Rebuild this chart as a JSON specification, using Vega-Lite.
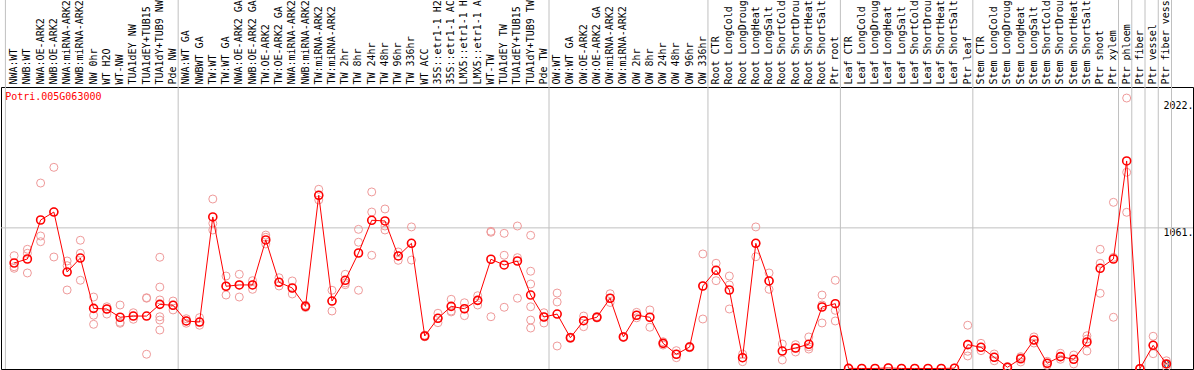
{
  "$schema": "https://vega.github.io/schema/vega-lite/v6.json",
  "width": 1192,
  "height": 282,
  "autosize": {"type": "none"},
  "padding": {"left": 1, "top": 87, "right": 1, "bottom": 1},
  "background": "white",
  "config": {"view": {"stroke": "black", "strokeWidth": 1}, "font": "DejaVu Sans Mono"},
  "datasets": {
    "gene": [{"gene": "Potri.005G063000"}],
    "bounds": [{"sample": "Pde NW"}, {"sample": "Pde TW"}, {"sample": "OW 336hr"}, {"sample": "Ptr root"}, {"sample": "Ptr leaf"}, {"sample": "Ptr xylem"}, {"sample": "Ptr phloem"}, {"sample": "Ptr fiber"}, {"sample": "Ptr vessel"}, {"sample": "Ptr fiber vessel"}],
    "means": [
      {"sample": "NWA:WT", "value": 797}, {"sample": "NWB:WT", "value": 827}, {"sample": "NWA:OE-ARK2", "value": 1120}, {"sample": "NWB:OE-ARK2", "value": 1180}, {"sample": "NWA:miRNA-ARK2", "value": 729}, {"sample": "NWB:miRNA-ARK2", "value": 834}, {"sample": "NW 0hr", "value": 456}, {"sample": "WT H2O", "value": 451}, {"sample": "WT-NW", "value": 389}, {"sample": "TUA1dEY NW", "value": 398}, {"sample": "TUA1dEY+TUB15 NW", "value": 398}, {"sample": "TUA1dY+TUB9 NW", "value": 486}, {"sample": "Pde NW", "value": 479},
      {"sample": "NWA:WT GA", "value": 361}, {"sample": "NWBWT GA", "value": 353}, {"sample": "TW:WT", "value": 1143}, {"sample": "TW:WT GA", "value": 622}, {"sample": "NWA:OE-ARK2 GA", "value": 632}, {"sample": "NWB:OE-ARK2 GA", "value": 632}, {"sample": "TW:OE-ARK2", "value": 970}, {"sample": "TW:OE-ARK2 GA", "value": 652}, {"sample": "NWA:miRNA-ARK2 GA", "value": 609}, {"sample": "NWB:miRNA-ARK2 GA", "value": 471}, {"sample": "TW:miRNA-ARK2", "value": 1306}, {"sample": "TW:miRNA-ARK2 GA", "value": 511}, {"sample": "TW 2hr", "value": 667}, {"sample": "TW 8hr", "value": 872}, {"sample": "TW 24hr", "value": 1118}, {"sample": "TW 48hr", "value": 1113}, {"sample": "TW 96hr", "value": 850}, {"sample": "TW 336hr", "value": 945}, {"sample": "WT ACC", "value": 248}, {"sample": "35S::etr1-1 H2O", "value": 381}, {"sample": "35S::etr1-1 ACC", "value": 471}, {"sample": "LMX5::etr1-1 H2O", "value": 453}, {"sample": "LMX5::etr1-1 ACC", "value": 516}, {"sample": "WT-TW", "value": 825}, {"sample": "TUA1dEY TW", "value": 782}, {"sample": "TUA1dEY+TUB15 TW", "value": 812}, {"sample": "TUA1dY+TUB9 TW", "value": 556}, {"sample": "Pde TW", "value": 391},
      {"sample": "OW:WT", "value": 413}, {"sample": "OW:WT GA", "value": 235}, {"sample": "OW:OE-ARK2", "value": 363}, {"sample": "OW:OE-ARK2 GA", "value": 389}, {"sample": "OW:miRNA-ARK2", "value": 532}, {"sample": "OW:miRNA-ARK2 GA", "value": 241}, {"sample": "OW 2hr", "value": 404}, {"sample": "OW 8hr", "value": 389}, {"sample": "OW 24hr", "value": 193}, {"sample": "OW 48hr", "value": 111}, {"sample": "OW 96hr", "value": 165}, {"sample": "OW 336hr", "value": 624},
      {"sample": "Root CTR", "value": 742}, {"sample": "Root LongCold", "value": 594}, {"sample": "Root LongDrought", "value": 85}, {"sample": "Root LongHeat", "value": 945}, {"sample": "Root LongSalt", "value": 662}, {"sample": "Root ShortCold", "value": 135}, {"sample": "Root ShortDrought", "value": 158}, {"sample": "Root ShortHeat", "value": 186}, {"sample": "Root ShortSalt", "value": 466}, {"sample": "Ptr root", "value": 491},
      {"sample": "Leaf CTR", "value": 5}, {"sample": "Leaf LongCold", "value": 4}, {"sample": "Leaf LongDrought", "value": 4}, {"sample": "Leaf LongHeat", "value": 8}, {"sample": "Leaf LongSalt", "value": 4}, {"sample": "Leaf ShortCold", "value": 4}, {"sample": "Leaf ShortDrought", "value": 4}, {"sample": "Leaf ShortHeat", "value": 4}, {"sample": "Leaf ShortSalt", "value": 6}, {"sample": "Ptr leaf", "value": 183},
      {"sample": "Stem CTR", "value": 163}, {"sample": "Stem LongCold", "value": 88}, {"sample": "Stem LongDrought", "value": 13}, {"sample": "Stem LongHeat", "value": 77}, {"sample": "Stem LongSalt", "value": 218}, {"sample": "Stem ShortCold", "value": 43}, {"sample": "Stem ShortDrought", "value": 93}, {"sample": "Stem ShortHeat", "value": 73}, {"sample": "Stem ShortSalt", "value": 203}, {"sample": "Ptr shoot", "value": 757}, {"sample": "Ptr xylem", "value": 827},
      {"sample": "Ptr phloem", "value": 1564}, {"sample": "Ptr fiber", "value": 2}, {"sample": "Ptr vessel", "value": 178}, {"sample": "Ptr fiber vessel", "value": 38}
    ],
    "reps": [
      {"sample": "NWA:WT", "value": 852}, {"sample": "NWA:WT", "value": 769}, {"sample": "NWA:WT", "value": 757},
      {"sample": "NWB:WT", "value": 900}, {"sample": "NWB:WT", "value": 870}, {"sample": "NWB:WT", "value": 722},
      {"sample": "NWA:OE-ARK2", "value": 1398}, {"sample": "NWA:OE-ARK2", "value": 1000}, {"sample": "NWA:OE-ARK2", "value": 957},
      {"sample": "NWB:OE-ARK2", "value": 1516}, {"sample": "NWB:OE-ARK2", "value": 842}, {"sample": "NWB:OE-ARK2", "value": 1182},
      {"sample": "NWA:miRNA-ARK2", "value": 812}, {"sample": "NWA:miRNA-ARK2", "value": 777}, {"sample": "NWA:miRNA-ARK2", "value": 594},
      {"sample": "NWB:miRNA-ARK2", "value": 968}, {"sample": "NWB:miRNA-ARK2", "value": 870}, {"sample": "NWB:miRNA-ARK2", "value": 667},
      {"sample": "NW 0hr", "value": 541}, {"sample": "NW 0hr", "value": 404}, {"sample": "NW 0hr", "value": 336},
      {"sample": "WT H2O", "value": 468}, {"sample": "WT H2O", "value": 413}, {"sample": "WT H2O", "value": 451},
      {"sample": "WT-NW", "value": 481}, {"sample": "WT-NW", "value": 351}, {"sample": "WT-NW", "value": 344},
      {"sample": "TUA1dEY NW", "value": 423}, {"sample": "TUA1dEY NW", "value": 374}, {"sample": "TUA1dEY NW", "value": 398},
      {"sample": "TUA1dEY+TUB15 NW", "value": 536}, {"sample": "TUA1dEY+TUB15 NW", "value": 532}, {"sample": "TUA1dEY+TUB15 NW", "value": 111},
      {"sample": "TUA1dY+TUB9 NW", "value": 840}, {"sample": "TUA1dY+TUB9 NW", "value": 616}, {"sample": "TUA1dY+TUB9 NW", "value": 519}, {"sample": "TUA1dY+TUB9 NW", "value": 393}, {"sample": "TUA1dY+TUB9 NW", "value": 368}, {"sample": "TUA1dY+TUB9 NW", "value": 293},
      {"sample": "Pde NW", "value": 511}, {"sample": "Pde NW", "value": 444}, {"sample": "Pde NW", "value": 479},
      {"sample": "NWA:WT GA", "value": 378}, {"sample": "NWA:WT GA", "value": 344}, {"sample": "NWA:WT GA", "value": 361},
      {"sample": "NWBWT GA", "value": 386}, {"sample": "NWBWT GA", "value": 329}, {"sample": "NWBWT GA", "value": 353},
      {"sample": "TW:WT", "value": 1278}, {"sample": "TW:WT", "value": 1095}, {"sample": "TW:WT", "value": 1045},
      {"sample": "TW:WT GA", "value": 699}, {"sample": "TW:WT GA", "value": 556}, {"sample": "TW:WT GA", "value": 622},
      {"sample": "NWA:OE-ARK2 GA", "value": 712}, {"sample": "NWA:OE-ARK2 GA", "value": 541}, {"sample": "NWA:OE-ARK2 GA", "value": 632},
      {"sample": "NWB:OE-ARK2 GA", "value": 664}, {"sample": "NWB:OE-ARK2 GA", "value": 599}, {"sample": "NWB:OE-ARK2 GA", "value": 632},
      {"sample": "TW:OE-ARK2", "value": 1007}, {"sample": "TW:OE-ARK2", "value": 990}, {"sample": "TW:OE-ARK2", "value": 940},
      {"sample": "TW:OE-ARK2 GA", "value": 686}, {"sample": "TW:OE-ARK2 GA", "value": 624}, {"sample": "TW:OE-ARK2 GA", "value": 652},
      {"sample": "NWA:miRNA-ARK2 GA", "value": 662}, {"sample": "NWA:miRNA-ARK2 GA", "value": 564}, {"sample": "NWA:miRNA-ARK2 GA", "value": 609},
      {"sample": "NWB:miRNA-ARK2 GA", "value": 480}, {"sample": "NWB:miRNA-ARK2 GA", "value": 462}, {"sample": "NWB:miRNA-ARK2 GA", "value": 471},
      {"sample": "TW:miRNA-ARK2", "value": 1351}, {"sample": "TW:miRNA-ARK2", "value": 1271}, {"sample": "TW:miRNA-ARK2", "value": 1306},
      {"sample": "TW:miRNA-ARK2 GA", "value": 592}, {"sample": "TW:miRNA-ARK2 GA", "value": 436}, {"sample": "TW:miRNA-ARK2 GA", "value": 511},
      {"sample": "TW 2hr", "value": 712}, {"sample": "TW 2hr", "value": 647}, {"sample": "TW 2hr", "value": 634},
      {"sample": "TW 8hr", "value": 1050}, {"sample": "TW 8hr", "value": 953}, {"sample": "TW 8hr", "value": 592},
      {"sample": "TW 24hr", "value": 1331}, {"sample": "TW 24hr", "value": 1180}, {"sample": "TW 24hr", "value": 855},
      {"sample": "TW 48hr", "value": 1203}, {"sample": "TW 48hr", "value": 1075}, {"sample": "TW 48hr", "value": 1045},
      {"sample": "TW 96hr", "value": 880}, {"sample": "TW 96hr", "value": 817}, {"sample": "TW 96hr", "value": 850},
      {"sample": "TW 336hr", "value": 1068}, {"sample": "TW 336hr", "value": 819}, {"sample": "TW 336hr", "value": 945},
      {"sample": "WT ACC", "value": 255}, {"sample": "WT ACC", "value": 242}, {"sample": "WT ACC", "value": 248},
      {"sample": "35S::etr1-1 H2O", "value": 419}, {"sample": "35S::etr1-1 H2O", "value": 348}, {"sample": "35S::etr1-1 H2O", "value": 381},
      {"sample": "35S::etr1-1 ACC", "value": 524}, {"sample": "35S::etr1-1 ACC", "value": 436}, {"sample": "35S::etr1-1 ACC", "value": 429},
      {"sample": "LMX5::etr1-1 H2O", "value": 498}, {"sample": "LMX5::etr1-1 H2O", "value": 401}, {"sample": "LMX5::etr1-1 H2O", "value": 453},
      {"sample": "LMX5::etr1-1 ACC", "value": 551}, {"sample": "LMX5::etr1-1 ACC", "value": 481}, {"sample": "LMX5::etr1-1 ACC", "value": 516},
      {"sample": "WT-TW", "value": 1035}, {"sample": "WT-TW", "value": 1028}, {"sample": "WT-TW", "value": 393},
      {"sample": "TUA1dEY TW", "value": 1020}, {"sample": "TUA1dEY TW", "value": 855}, {"sample": "TUA1dEY TW", "value": 464},
      {"sample": "TUA1dEY+TUB15 TW", "value": 1075}, {"sample": "TUA1dEY+TUB15 TW", "value": 837}, {"sample": "TUA1dEY+TUB15 TW", "value": 532},
      {"sample": "TUA1dY+TUB9 TW", "value": 1005}, {"sample": "TUA1dY+TUB9 TW", "value": 735}, {"sample": "TUA1dY+TUB9 TW", "value": 639}, {"sample": "TUA1dY+TUB9 TW", "value": 468}, {"sample": "TUA1dY+TUB9 TW", "value": 368}, {"sample": "TUA1dY+TUB9 TW", "value": 308},
      {"sample": "Pde TW", "value": 423}, {"sample": "Pde TW", "value": 346}, {"sample": "Pde TW", "value": 391},
      {"sample": "OW:WT", "value": 571}, {"sample": "OW:WT", "value": 504}, {"sample": "OW:WT", "value": 173},
      {"sample": "OW:WT GA", "value": 235}, {"sample": "OW:WT GA", "value": 240}, {"sample": "OW:WT GA", "value": 230},
      {"sample": "OW:OE-ARK2", "value": 398}, {"sample": "OW:OE-ARK2", "value": 318}, {"sample": "OW:OE-ARK2", "value": 363},
      {"sample": "OW:OE-ARK2 GA", "value": 389}, {"sample": "OW:OE-ARK2 GA", "value": 395}, {"sample": "OW:OE-ARK2 GA", "value": 383},
      {"sample": "OW:miRNA-ARK2", "value": 566}, {"sample": "OW:miRNA-ARK2", "value": 532}, {"sample": "OW:miRNA-ARK2", "value": 500},
      {"sample": "OW:miRNA-ARK2 GA", "value": 241}, {"sample": "OW:miRNA-ARK2 GA", "value": 245}, {"sample": "OW:miRNA-ARK2 GA", "value": 237},
      {"sample": "OW 2hr", "value": 426}, {"sample": "OW 2hr", "value": 404}, {"sample": "OW 2hr", "value": 385},
      {"sample": "OW 8hr", "value": 444}, {"sample": "OW 8hr", "value": 314}, {"sample": "OW 8hr", "value": 389},
      {"sample": "OW 24hr", "value": 193}, {"sample": "OW 24hr", "value": 180}, {"sample": "OW 24hr", "value": 205},
      {"sample": "OW 48hr", "value": 138}, {"sample": "OW 48hr", "value": 111}, {"sample": "OW 48hr", "value": 85},
      {"sample": "OW 96hr", "value": 165}, {"sample": "OW 96hr", "value": 170}, {"sample": "OW 96hr", "value": 160},
      {"sample": "OW 336hr", "value": 865}, {"sample": "OW 336hr", "value": 376}, {"sample": "OW 336hr", "value": 624},
      {"sample": "Root CTR", "value": 795}, {"sample": "Root CTR", "value": 664}, {"sample": "Root CTR", "value": 742},
      {"sample": "Root LongCold", "value": 699}, {"sample": "Root LongCold", "value": 632}, {"sample": "Root LongCold", "value": 451},
      {"sample": "Root LongDrought", "value": 55}, {"sample": "Root LongDrought", "value": 85}, {"sample": "Root LongDrought", "value": 112},
      {"sample": "Root LongHeat", "value": 1068}, {"sample": "Root LongHeat", "value": 844}, {"sample": "Root LongHeat", "value": 945},
      {"sample": "Root LongSalt", "value": 722}, {"sample": "Root LongSalt", "value": 599}, {"sample": "Root LongSalt", "value": 662},
      {"sample": "Root ShortCold", "value": 188}, {"sample": "Root ShortCold", "value": 68}, {"sample": "Root ShortCold", "value": 135},
      {"sample": "Root ShortDrought", "value": 183}, {"sample": "Root ShortDrought", "value": 128}, {"sample": "Root ShortDrought", "value": 158},
      {"sample": "Root ShortHeat", "value": 241}, {"sample": "Root ShortHeat", "value": 150}, {"sample": "Root ShortHeat", "value": 167},
      {"sample": "Root ShortSalt", "value": 556}, {"sample": "Root ShortSalt", "value": 481}, {"sample": "Root ShortSalt", "value": 346},
      {"sample": "Ptr root", "value": 667}, {"sample": "Ptr root", "value": 441}, {"sample": "Ptr root", "value": 361},
      {"sample": "Leaf CTR", "value": 5}, {"sample": "Leaf LongCold", "value": 4}, {"sample": "Leaf LongDrought", "value": 4}, {"sample": "Leaf LongHeat", "value": 10}, {"sample": "Leaf LongSalt", "value": 4}, {"sample": "Leaf ShortCold", "value": 4}, {"sample": "Leaf ShortDrought", "value": 4}, {"sample": "Leaf ShortHeat", "value": 4}, {"sample": "Leaf ShortSalt", "value": 8},
      {"sample": "Ptr leaf", "value": 329}, {"sample": "Ptr leaf", "value": 133}, {"sample": "Ptr leaf", "value": 98},
      {"sample": "Stem CTR", "value": 193}, {"sample": "Stem CTR", "value": 138}, {"sample": "Stem CTR", "value": 163},
      {"sample": "Stem LongCold", "value": 113}, {"sample": "Stem LongCold", "value": 62}, {"sample": "Stem LongCold", "value": 88},
      {"sample": "Stem LongDrought", "value": 13}, {"sample": "Stem LongDrought", "value": 18}, {"sample": "Stem LongDrought", "value": 8},
      {"sample": "Stem LongHeat", "value": 93}, {"sample": "Stem LongHeat", "value": 53}, {"sample": "Stem LongHeat", "value": 85},
      {"sample": "Stem LongSalt", "value": 241}, {"sample": "Stem LongSalt", "value": 218}, {"sample": "Stem LongSalt", "value": 195},
      {"sample": "Stem ShortCold", "value": 28}, {"sample": "Stem ShortCold", "value": 43}, {"sample": "Stem ShortCold", "value": 58},
      {"sample": "Stem ShortDrought", "value": 118}, {"sample": "Stem ShortDrought", "value": 73}, {"sample": "Stem ShortDrought", "value": 93},
      {"sample": "Stem ShortHeat", "value": 105}, {"sample": "Stem ShortHeat", "value": 38}, {"sample": "Stem ShortHeat", "value": 73},
      {"sample": "Stem ShortSalt", "value": 250}, {"sample": "Stem ShortSalt", "value": 135}, {"sample": "Stem ShortSalt", "value": 225},
      {"sample": "Ptr shoot", "value": 900}, {"sample": "Ptr shoot", "value": 795}, {"sample": "Ptr shoot", "value": 569},
      {"sample": "Ptr xylem", "value": 1253}, {"sample": "Ptr xylem", "value": 389}, {"sample": "Ptr xylem", "value": 839},
      {"sample": "Ptr phloem", "value": 2037}, {"sample": "Ptr phloem", "value": 1479}, {"sample": "Ptr phloem", "value": 1178},
      {"sample": "Ptr fiber", "value": 2}, {"sample": "Ptr fiber", "value": 0}, {"sample": "Ptr fiber", "value": 4},
      {"sample": "Ptr vessel", "value": 246}, {"sample": "Ptr vessel", "value": 115}, {"sample": "Ptr vessel", "value": 178},
      {"sample": "Ptr fiber vessel", "value": 62}, {"sample": "Ptr fiber vessel", "value": 38}, {"sample": "Ptr fiber vessel", "value": 15}
    ]
  },
  "layer": [
    {
      "data": {"name": "bounds"},
      "mark": {"type": "rule", "color": "#c0c0c0", "strokeWidth": 1},
      "encoding": {
        "x": {"field": "sample", "type": "nominal", "bandPosition": 0.885,
          "scale": {"type": "band", "paddingInner": 0, "paddingOuter": 1.846, "align": 0.2458,
            "domain": ["NWA:WT", "NWB:WT", "NWA:OE-ARK2", "NWB:OE-ARK2", "NWA:miRNA-ARK2", "NWB:miRNA-ARK2", "NW 0hr", "WT H2O", "WT-NW", "TUA1dEY NW", "TUA1dEY+TUB15 NW", "TUA1dY+TUB9 NW", "Pde NW", "NWA:WT GA", "NWBWT GA", "TW:WT", "TW:WT GA", "NWA:OE-ARK2 GA", "NWB:OE-ARK2 GA", "TW:OE-ARK2", "TW:OE-ARK2 GA", "NWA:miRNA-ARK2 GA", "NWB:miRNA-ARK2 GA", "TW:miRNA-ARK2", "TW:miRNA-ARK2 GA", "TW 2hr", "TW 8hr", "TW 24hr", "TW 48hr", "TW 96hr", "TW 336hr", "WT ACC", "35S::etr1-1 H2O", "35S::etr1-1 ACC", "LMX5::etr1-1 H2O", "LMX5::etr1-1 ACC", "WT-TW", "TUA1dEY TW", "TUA1dEY+TUB15 TW", "TUA1dY+TUB9 TW", "Pde TW", "OW:WT", "OW:WT GA", "OW:OE-ARK2", "OW:OE-ARK2 GA", "OW:miRNA-ARK2", "OW:miRNA-ARK2 GA", "OW 2hr", "OW 8hr", "OW 24hr", "OW 48hr", "OW 96hr", "OW 336hr", "Root CTR", "Root LongCold", "Root LongDrought", "Root LongHeat", "Root LongSalt", "Root ShortCold", "Root ShortDrought", "Root ShortHeat", "Root ShortSalt", "Ptr root", "Leaf CTR", "Leaf LongCold", "Leaf LongDrought", "Leaf LongHeat", "Leaf LongSalt", "Leaf ShortCold", "Leaf ShortDrought", "Leaf ShortHeat", "Leaf ShortSalt", "Ptr leaf", "Stem CTR", "Stem LongCold", "Stem LongDrought", "Stem LongHeat", "Stem LongSalt", "Stem ShortCold", "Stem ShortDrought", "Stem ShortHeat", "Stem ShortSalt", "Ptr shoot", "Ptr xylem", "Ptr phloem", "Ptr fiber", "Ptr vessel", "Ptr fiber vessel"]},
          "axis": {"orient": "top", "labelAngle": -90, "ticks": false, "domain": false, "grid": false, "labelPadding": 3, "labelFont": "DejaVu Sans Mono", "labelFontSize": 10, "labelColor": "black", "labelOverlap": false, "labelBound": false, "labelLimit": 300, "title": null}},
        "y": {"datum": 2790, "type": "quantitative", "scale": {"domain": [0, 2120], "nice": false, "zero": false}},
        "y2": {"datum": 0}
      }
    },
    {
      "data": {"name": "gene"},
      "mark": {"type": "rule", "color": "#c0c0c0", "strokeWidth": 1},
      "encoding": {
        "x": {"datum": "NWA:WT", "type": "nominal", "bandPosition": -0.16},
        "y": {"datum": 2790, "type": "quantitative"},
        "y2": {"datum": 0}
      }
    },
    {
      "data": {"name": "gene"},
      "mark": {"type": "rule", "color": "#c0c0c0", "strokeWidth": 1},
      "encoding": {"y": {"datum": 1061, "type": "quantitative"}}
    },
    {
      "data": {"name": "reps"},
      "mark": {"type": "point", "shape": "circle", "filled": false, "color": "#ef9a9a", "strokeWidth": 1, "size": 64, "opacity": 1},
      "encoding": {
        "x": {"field": "sample", "type": "nominal"},
        "y": {"field": "value", "type": "quantitative",
          "axis": {"orient": "right", "values": [0, 1061, 2022], "labelExpr": "datum.value == 0 ? '0' : datum.value + '.'", "ticks": false, "tickSize": 0, "domain": false, "grid": false, "labelPadding": -30, "labelAlign": "left", "labelBaseline": {"condition": {"test": "datum.value == 0", "value": "bottom"}, "value": "top"}, "labelFont": "DejaVu Sans Mono", "labelFontSize": 10, "labelColor": "black", "labelBound": false, "labelFlush": false, "labelOverlap": false, "title": null}}
      }
    },
    {
      "data": {"name": "means"},
      "mark": {"type": "line", "color": "red", "strokeWidth": 1},
      "encoding": {
        "x": {"field": "sample", "type": "nominal"},
        "y": {"field": "value", "type": "quantitative"},
        "order": {"value": null}
      }
    },
    {
      "data": {"name": "means"},
      "mark": {"type": "point", "shape": "circle", "filled": false, "color": "red", "strokeWidth": 1.6, "size": 64, "opacity": 1},
      "encoding": {
        "x": {"field": "sample", "type": "nominal"},
        "y": {"field": "value", "type": "quantitative"}
      }
    },
    {
      "data": {"name": "gene"},
      "mark": {"type": "text", "align": "left", "baseline": "middle", "dx": -9, "font": "DejaVu Sans Mono", "fontSize": 10, "color": "red"},
      "encoding": {
        "x": {"datum": "NWA:WT", "type": "nominal"},
        "y": {"datum": 2045, "type": "quantitative"},
        "text": {"field": "gene", "type": "nominal"}
      }
    }
  ]
}
